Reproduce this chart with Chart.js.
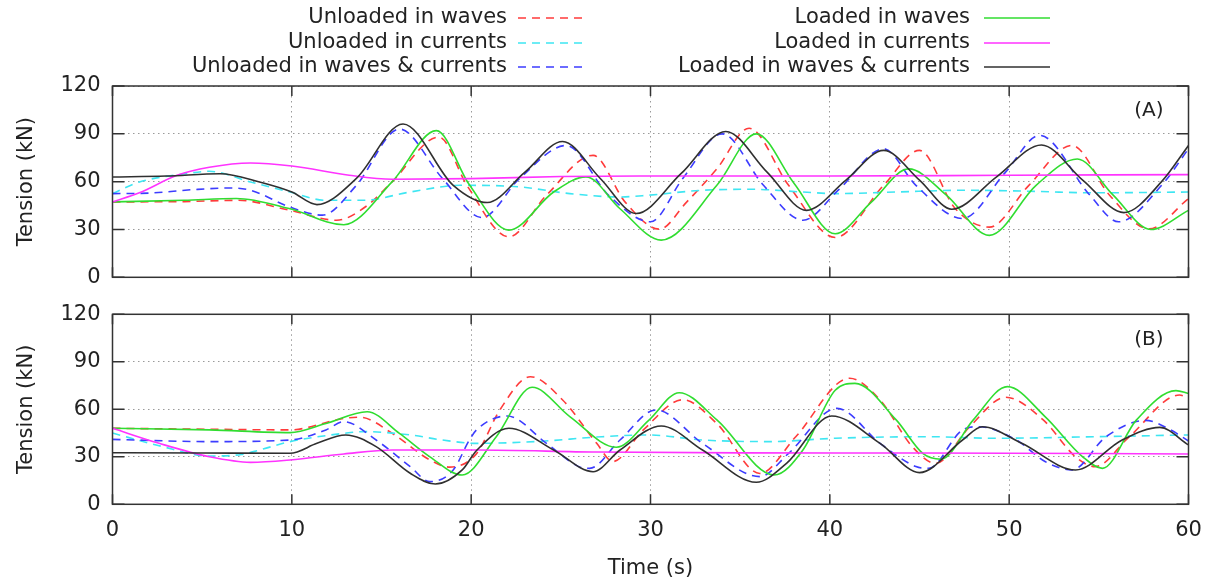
<!DOCTYPE html>
<html><head><meta charset="utf-8">
<script src="https://cdn.jsdelivr.net/npm/chart.js@4.4.1/dist/chart.umd.min.js"></script>
<style>
html,body{margin:0;padding:0;background:#fff;width:1216px;height:584px;overflow:hidden}
.wrap{position:absolute;left:0;width:1216px}
#wa{top:0;height:300px}
#wb{top:300px;height:284px}
canvas{display:block}
</style></head><body>
<div class="wrap" id="wa"><canvas id="ca" width="1216" height="300"></canvas></div>
<div class="wrap" id="wb"><canvas id="cb" width="1216" height="284"></canvas></div>
<script>
// ---------- labels ----------
const seriesLabels = ['Unloaded in waves','Unloaded in currents','Unloaded in waves & currents','Loaded in waves','Loaded in currents','Loaded in waves & currents'];
const xTicks = [0,10,20,30,40,50,60];
const yTicks = [0,30,60,90,120];
const panelTags = ['(A)','(B)'];
const xTitle = 'Time (s)';
const yTitle = 'Tension (kN)';

// ---------- Panel A ----------
const A_uw_t = [0,4,7,9.9,12.5,14.2,15.6,18.2,19.8,22.1,24.2,26.8,28.6,30.5,32,33.7,35.5,37.7,40.3,43,45,47,48.9,51.1,53.5,55.6,57.8,60];
const A_uw_v = [47.3,47.5,48.3,42,35.8,45,60,88,57,25.4,51.5,76.5,47,30.2,47,68,93.5,57.7,25,57.7,79.6,43,31.5,57.7,82.7,51.5,30.4,49.4];
const A_uc_t = [0,1.5,4.1,5.4,7.7,9.9,11.9,14,16.6,19.4,22.7,25.5,28.3,29.9,32.9,35.7,38.5,40.3,43.7,47.4,51.1,54.8,60];
const A_uc_v = [52.5,59.8,65,66.5,59.8,53.5,48.3,48.3,53.5,57.7,56.7,52.5,50.4,51.5,54.6,55.2,53.5,52.5,53.5,54.6,54,53,53.5];
const A_uwc_t = [0,2,4.5,6.5,7.7,9.9,11.7,13.6,16.0,18.4,20.6,22.7,25.3,27.7,30.0,31.8,34.0,36.3,38.5,40.5,43.0,44.8,47.4,49.8,51.7,54.5,56.1,58.5,60];
const A_uwc_v = [52.5,52.8,55,56,54.6,44,39,57.7,93,62,37.5,62,82.7,51,34.8,62,90,57.7,35.8,55,80.6,57.7,36.9,66,89,51.5,34.8,57.7,80.6];
const A_lw_t = [0,4,6.9,9.9,12.9,15.6,18.06,19.9,22.1,24.6,26.4,28.3,30.6,33.7,35.9,38,40.3,42.3,44.4,46.5,48.9,51.5,53.8,55.8,57.9,60];
const A_lw_v = [47.3,48.3,49.4,43,33,60,92,58,29.6,53.5,63,43,23.3,57.7,90,59,27.3,47,68,51.5,26.3,57.7,74.2,51.5,30,42];
const A_lc_t = [0,1.5,3.6,5.4,7.7,10,13.2,15.6,20,25,30,40,50,60];
const A_lc_v = [47.3,53,64,69,71.7,69.8,64,61.5,61.9,63.2,63.5,63.5,64,64.4];
const A_lwc_t = [0,3,6,8.2,10,11.4,13.6,16.2,19,20.9,23,25.1,27.2,29.2,31.7,34.2,36.5,38.7,40.9,43,45,46.8,49.3,51.8,54.1,56.4,58.5,60];
const A_lwc_v = [62.9,63.5,65,59.8,53.5,45.6,62,96.2,57.7,46.9,66,85.2,62,40,65,91.5,66,42,61,79.6,61,42.7,63,83,61,40.6,60,82.7];

// ---------- Panel B ----------
const B_uw_t = [0,5.4,9.9,12.9,13.8,15.6,17.7,18.8,20.3,21.6,23.3,25.1,27,27.9,29.6,31.8,33.7,36.1,38.1,41.1,42.8,44.6,45.9,47.8,49.8,51.9,53.7,54.8,56.7,59.5,60];
const B_uw_v = [48,47.4,47,54.3,55,44.8,28,23.5,32,59.6,80.6,65.9,38.5,27,47,66,51,19.5,42.7,79.6,65.9,36.4,25.9,49,67.6,53.3,30,23.8,42.7,69,67];
const B_uc_t = [0,2.6,5.4,7.2,8.2,9.9,12.9,14,16.6,18.4,20.3,23.6,27.3,29.9,32.9,36.6,40.3,45.5,49.3,54.8,60];
const B_uc_v = [45,37,30.5,31.5,34.3,39.6,44.8,45.9,43.8,40.6,38.5,39.6,42.7,43.8,40.6,39.6,41.7,42.7,41.7,42.7,43.8];
const B_uwc_t = [0,5.4,9.9,11.9,12.9,14.7,16.6,17.7,19,19.9,20.3,22,24.2,26,26.6,28.3,30.3,32.9,36.1,37.7,40.4,42.8,44.8,45.5,47.4,48.3,50.4,52,53.5,55.4,57.6,59,60];
const B_uwc_v = [41,39.6,40.6,47,52.2,40.6,23.8,14.3,21.7,40.6,47,55.8,38.5,23.8,22.7,40.6,59.6,38.5,17.5,32.2,60.6,38.5,23.8,22.7,47,49,40.6,27,21.7,42.7,53,47,40];
const B_lw_t = [0,5.4,9.9,11.9,14.2,16,17.7,19.5,21.4,23.4,25.5,28.1,29.9,31.6,33.7,36.9,38.5,40.3,41.4,43.7,45.2,46.2,48,49.9,52,54.1,55.2,57.1,59.3,60];
const B_lw_v = [48,47,45.3,51,58.5,44.8,30,18.5,42.7,73.9,55.4,36,53,70.5,53.3,18.5,34.3,72,76.4,53.3,32,28.5,53.3,74.3,55.4,30,22.7,53.3,71.8,70];
const B_lc_t = [0,2.6,5.4,7.7,9.9,12.9,15.6,20.3,27,35,45,60];
const B_lc_v = [48,38.5,30,26.5,28,31.8,34.3,34.3,33,32.5,32.4,31.8];
const B_lwc_t = [0,5,9.9,11.4,13,14.7,16.6,18,19.5,20.3,22.1,24.6,26.8,28.3,30.6,32.9,35.9,37.6,40.1,42.8,45,47.4,48.5,50.7,53.7,56.3,58.4,60];
const B_lwc_v = [32.6,32.4,32.2,38.5,43.8,36.4,19.6,12.8,21.7,34,48,34.3,20.6,34.3,49.5,34.3,13.9,26,55.8,38.5,20,40.6,49,38.5,21.7,40.6,48.6,37.5];

// ---------- styles ----------
const FONT = 'DejaVu Sans';
const styles = [
  {color:'#ff3b3b', dash:[8,6], order:5},
  {color:'#3ee6f2', dash:[8,6], order:4},
  {color:'#3c3cff', dash:[8,6], order:3},
  {color:'#30dd30', dash:[], order:2},
  {color:'#ff33ff', dash:[], order:1},
  {color:'#303030', dash:[], order:0}
];

function pts(t, v){ return t.map((x,i)=>({x:x, y:v[i]})); }
function makeSets(list){
  return list.map((s,i)=>({
    label: seriesLabels[i],
    data: pts(s[0], s[1]),
    borderColor: styles[i].color,
    borderDash: styles[i].dash,
    borderWidth: 1.6,
    pointRadius: 0,
    fill: false,
    cubicInterpolationMode: 'monotone',
    order: styles[i].order
  }));
}

const framePlugin = {
  id: 'frame',
  afterDatasetsDraw(chart, args, opts){
    const {ctx, chartArea:{left,right,top,bottom}, scales:{x,y}} = chart;
    ctx.save();
    ctx.strokeStyle = '#333'; ctx.lineWidth = 1.5; ctx.setLineDash([]);
    ctx.beginPath();
    x.ticks.forEach(t=>{ const px = x.getPixelForValue(t.value);
      ctx.moveTo(px,bottom); ctx.lineTo(px,bottom-10); ctx.moveTo(px,top); ctx.lineTo(px,top+10); });
    y.ticks.forEach(t=>{ const py = y.getPixelForValue(t.value);
      ctx.moveTo(left,py); ctx.lineTo(left+12,py); ctx.moveTo(right,py); ctx.lineTo(right-12,py); });
    ctx.stroke();
    ctx.strokeRect(left,top,right-left,bottom-top);
    ctx.font = '20px "' + FONT + '"'; ctx.fillStyle = '#222';
    ctx.textAlign = 'right'; ctx.textBaseline = 'middle';
    ctx.fillText(opts.tag, right - 25, top + 25);
    ctx.restore();
  }
};

const legendPlugin = {
  id: 'customLegend',
  afterDraw(chart, args, opts){
    if (!opts.show) return;
    const ctx = chart.ctx;
    ctx.save();
    ctx.font = '21px "' + FONT + '"'; ctx.fillStyle = '#222';
    ctx.textAlign = 'right'; ctx.textBaseline = 'middle';
    const textRight = [507, 970], lineX = [518, 984], rowsY = [18, 43, 67];
    seriesLabels.forEach((lab,i)=>{
      const col = i < 3 ? 0 : 1, row = i % 3;
      const y = rowsY[row];
      ctx.fillText(lab, textRight[col], y);
      ctx.strokeStyle = styles[i].color; ctx.lineWidth = 1.6;
      ctx.setLineDash(styles[i].dash);
      ctx.beginPath(); ctx.moveTo(lineX[col], y); ctx.lineTo(lineX[col]+66, y); ctx.stroke();
    });
    ctx.restore();
  }
};

function zeroPad(s){ s.paddingTop = 0; s.paddingBottom = 0; s.paddingLeft = 0; s.paddingRight = 0; }

function makeChart(id, sets, opt){
  return new Chart(document.getElementById(id), {
    type: 'line',
    data: { datasets: makeSets(sets) },
    plugins: [framePlugin, legendPlugin],
    options: {
      responsive: false, animation: false,
      layout: { padding: { left: 0, right: 27.5, top: opt.top, bottom: opt.bottom } },
      plugins: { legend: {display:false}, tooltip: {enabled:false},
        frame: {tag: opt.tag}, customLegend: {show: opt.legend} },
      scales: {
        x: {
          type: 'linear', min: 0, max: 60,
          afterBuildTicks: s => { s.ticks = xTicks.map(v=>({value:v})); },
          grid: { color: '#9a9a9a', lineWidth: 1, drawTicks: false },
          border: { display: false, dash: [1.5, 3.5] },
          ticks: { display: opt.xlabels, padding: 14, color: '#222', font: {family: FONT, size: 21}, autoSkip: false, maxRotation: 0 },
          title: { display: opt.xlabels, text: xTitle, color: '#222', font: {family: FONT, size: 21}, padding: {top: 4, bottom: 3} },
          afterFit: s => { s.height = opt.xHeight; zeroPad(s); }
        },
        y: {
          type: 'linear', min: 0, max: 120,
          afterBuildTicks: s => { s.ticks = yTicks.map(v=>({value:v})); },
          grid: { color: '#9a9a9a', lineWidth: 1, drawTicks: false },
          border: { display: false, dash: [1.5, 3.5] },
          ticks: { padding: 12, color: '#222', font: {family: FONT, size: 21} },
          title: { display: true, text: yTitle, color: '#222', font: {family: FONT, size: 21}, padding: {top: 14, bottom: 4} },
          afterFit: s => { s.width = 112.5; zeroPad(s); }
        }
      }
    }
  });
}

makeChart('ca', [[A_uw_t,A_uw_v],[A_uc_t,A_uc_v],[A_uwc_t,A_uwc_v],[A_lw_t,A_lw_v],[A_lc_t,A_lc_v],[A_lwc_t,A_lwc_v]],
  {top: 86, bottom: 22.7, tag: panelTags[0], legend: true, xlabels: false, xHeight: 0});
makeChart('cb', [[B_uw_t,B_uw_v],[B_uc_t,B_uc_v],[B_uwc_t,B_uwc_v],[B_lw_t,B_lw_v],[B_lc_t,B_lc_v],[B_lwc_t,B_lwc_v]],
  {top: 14.3, bottom: 0, tag: panelTags[1], legend: false, xlabels: true, xHeight: 79.7});
</script>
</body></html>
